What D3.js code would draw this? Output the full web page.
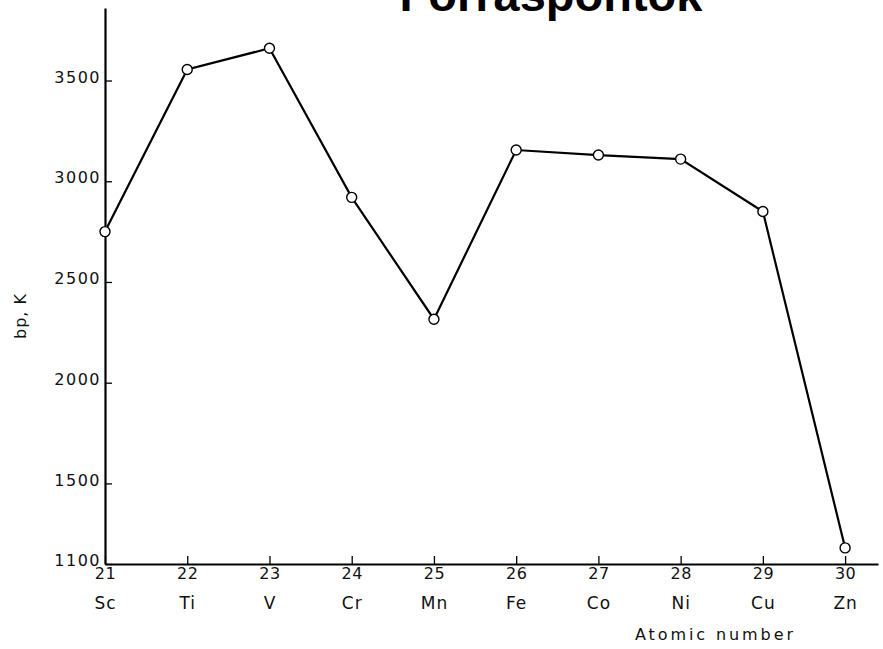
<!DOCTYPE html>
<html>
<head>
<meta charset="utf-8">
<script src="https://cdn.jsdelivr.net/npm/d3@7"></script>
<style>
  body { margin: 0; background: #fff; }
  .tick text, .lbl { font-family: "DejaVu Sans", sans-serif; fill: #111; }
  .title { font-family: "Liberation Sans", Arial, sans-serif; font-weight: bold; fill: #000; }
</style>
</head>
<body>
<div class="chart"></div>
<script>
// data
var atomicNumbers = [21, 22, 23, 24, 25, 26, 27, 28, 29, 30];
var elements = ["Sc", "Ti", "V", "Cr", "Mn", "Fe", "Co", "Ni", "Cu", "Zn"];
var boilingPoints = [2750, 3555, 3660, 2920, 2315, 3155, 3130, 3110, 2850, 1180];
var yTicks = [1100, 1500, 2000, 2500, 3000, 3500];

var svgWidth = 883;
var svgHeight = 649;

var svg = d3.select(".chart")
  .append("svg")
  .attr("width", svgWidth)
  .attr("height", svgHeight);

// scales
var xScale = d3.scaleLinear()
  .domain([21, 30.4])
  .range([105, 878]);

var yScale = d3.scaleLinear()
  .domain([1100, 3860])
  .range([564, 8]);

// title (cut off at top in the original)
svg.append("text")
  .attr("class", "title")
  .attr("x", 551)
  .attr("y", 11)
  .attr("text-anchor", "middle")
  .attr("font-size", "47px")
  .text("Forráspontok");

// y axis
var leftAxis = d3.axisLeft(yScale)
  .tickValues(yTicks)
  .tickSizeInner(-7)
  .tickSizeOuter(0)
  .tickPadding(4)
  .tickFormat(d3.format("d"));

var yAxisG = svg.append("g")
  .attr("transform", "translate(105,0)")
  .call(leftAxis);

yAxisG.select(".domain").attr("stroke", "#000").attr("stroke-width", 2.2);
yAxisG.selectAll(".tick line").attr("stroke", "#000").attr("stroke-width", 1.3);
yAxisG.selectAll(".tick text")
  .attr("font-size", "16px")
  .attr("letter-spacing", "1.5px")
  .attr("dy", "0.1em");

// x axis
var bottomAxis = d3.axisBottom(xScale)
  .tickValues(atomicNumbers)
  .tickSizeInner(-8)
  .tickSizeOuter(0)
  .tickPadding(6)
  .tickFormat(d3.format("d"));

var xAxisG = svg.append("g")
  .attr("transform", "translate(0,564)")
  .call(bottomAxis);

xAxisG.select(".domain").attr("stroke", "#000").attr("stroke-width", 1.8);
xAxisG.selectAll(".tick line").attr("stroke", "#000").attr("stroke-width", 1.3);
xAxisG.selectAll(".tick text")
  .attr("font-size", "16px")
  .attr("y", 4)
  .attr("letter-spacing", "0.5px");

// element symbols under the numbers
xAxisG.selectAll(".tick")
  .append("text")
  .attr("class", "lbl")
  .attr("y", 45)
  .attr("text-anchor", "middle")
  .attr("font-size", "17px")
  .attr("letter-spacing", "1px")
  .text(function(d, i) { return elements[i]; });

// axis labels
svg.append("text")
  .attr("class", "lbl")
  .attr("transform", "translate(26,316) rotate(-90)")
  .attr("text-anchor", "middle")
  .attr("font-size", "16px")
  .attr("letter-spacing", "1px")
  .text("bp, K");

svg.append("text")
  .attr("class", "lbl")
  .attr("x", 635)
  .attr("y", 640)
  .attr("font-size", "16px")
  .attr("textLength", 158)
  .attr("lengthAdjust", "spacing")
  .text("Atomic number");

// line
var line = d3.line()
  .x(function(d, i) { return xScale(atomicNumbers[i]); })
  .y(function(d) { return yScale(d); });

svg.append("path")
  .datum(boilingPoints)
  .attr("d", line)
  .attr("fill", "none")
  .attr("stroke", "#000")
  .attr("stroke-width", 2.2);

// points
svg.selectAll("circle")
  .data(boilingPoints)
  .enter()
  .append("circle")
  .attr("cx", function(d, i) { return xScale(atomicNumbers[i]); })
  .attr("cy", function(d) { return yScale(d); })
  .attr("r", 5)
  .attr("fill", "#fff")
  .attr("stroke", "#000")
  .attr("stroke-width", 1.4);
</script>
</body>
</html>
